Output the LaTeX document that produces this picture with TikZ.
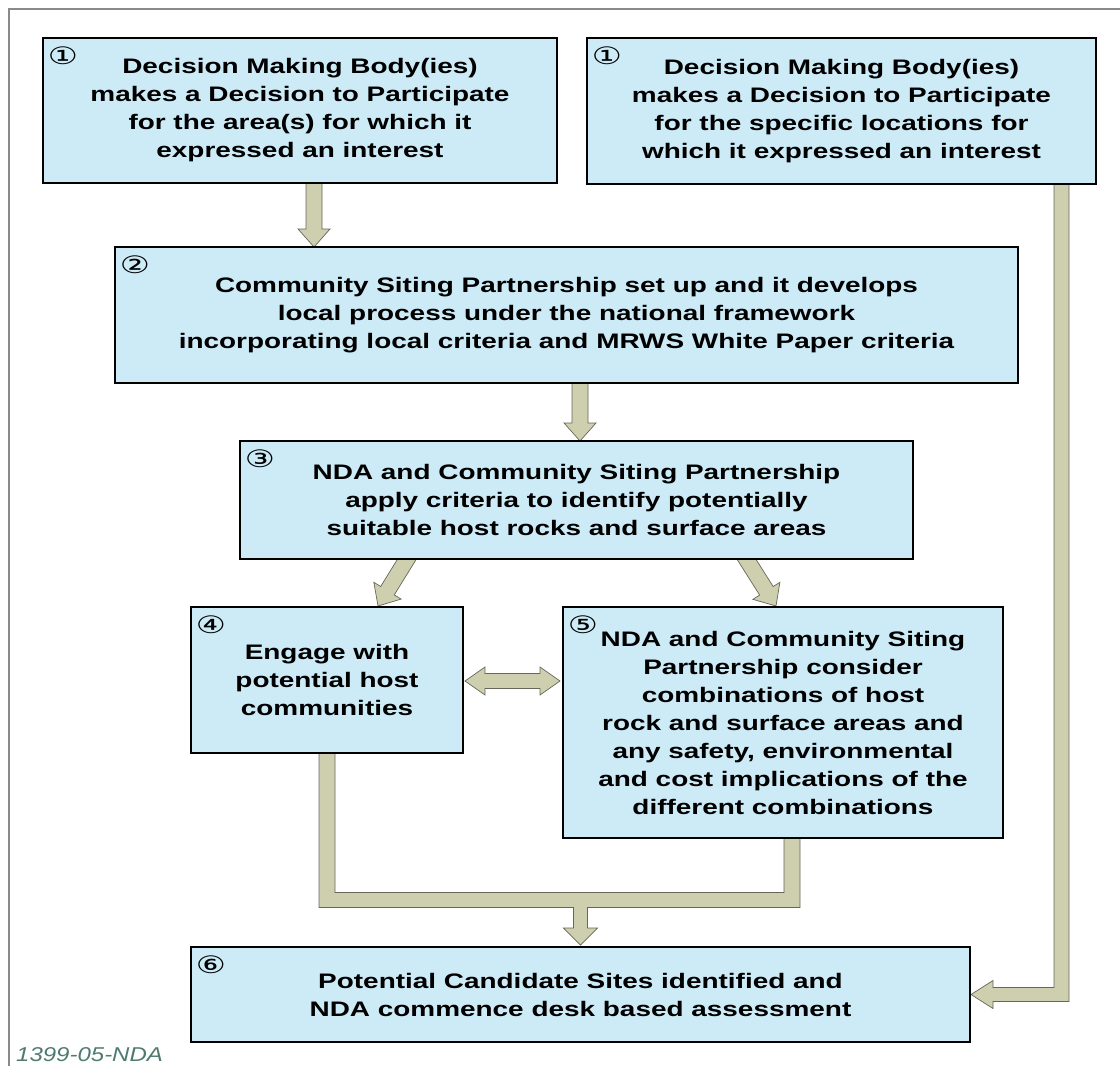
\documentclass[tikz,border=0pt]{standalone}
\usepackage{fontspec}
\setmainfont{Liberation Sans}
\newfontfamily\boxfam[FakeStretch=1.33]{Liberation Sans}
\newfontfamily\numfam[FakeStretch=1.4]{DejaVu Sans}
\newfontfamily\labfam[FakeStretch=1.2]{Liberation Sans}
\usetikzlibrary{calc}
\definecolor{boxfill}{HTML}{CDEBF6}
\definecolor{arrowfill}{HTML}{CDCFAE}
\definecolor{arrowline}{HTML}{66665A}
\definecolor{framecol}{HTML}{8A8A8A}
\definecolor{labelcol}{HTML}{4E7A70}
\pgfdeclarelayer{bg}
\pgfsetlayers{bg,main}
\tikzset{
  box/.style={draw=black, line width=2.8pt, fill=boxfill, inner sep=0pt, outer sep=0pt,
    align=center, font=\boxfam\bfseries\fontsize{21}{28}\selectfont},
  num/.style={font=\numfam\fontsize{24}{24}\selectfont, inner sep=0pt},
  blockarrow/.style={fill=arrowfill, draw=arrowline, line width=0.7pt, line join=miter},
}
% straight block arrow from coordinate #1 to tip at coordinate #2
\newcommand\blockarr[2]{%
  \coordinate (ba-h) at ($(#2)!18pt!(#1)$);
  \draw[blockarrow] ($(#1)!8pt!90:(#2)$) -- ($(ba-h)!8pt!-90:(#1)$) -- ($(ba-h)!16pt!-90:(#1)$)
    -- (#2) -- ($(ba-h)!16pt!90:(#1)$) -- ($(ba-h)!8pt!90:(#1)$) -- ($(#1)!8pt!-90:(#2)$) -- cycle;
}
\begin{document}
\begin{tikzpicture}[x=1pt,y=-1pt]
\useasboundingbox (0,0) rectangle (1120,1066);
\draw[framecol, line width=1.2pt] (9,1066) -- (9,9) -- (1120,9);

% boxes
\node[box, minimum width=514pt, minimum height=145pt] (b1l) at (300,110.5)
  {Decision Making Body(ies)\\makes a Decision to Participate\\for the area(s) for which it\\expressed an interest};
\node[box, minimum width=509pt, minimum height=146pt] (b1r) at (841.5,111)
  {Decision Making Body(ies)\\makes a Decision to Participate\\for the specific locations for\\which it expressed an interest};
\node[box, minimum width=903pt, minimum height=136pt] (b2) at (566.5,315)
  {Community Siting Partnership set up and it develops\\local process under the national framework\\incorporating local criteria and MRWS White Paper criteria};
\node[box, minimum width=673pt, minimum height=118pt] (b3) at (576.5,500)
  {NDA and Community Siting Partnership\\apply criteria to identify potentially\\suitable host rocks and surface areas};
\node[box, minimum width=272pt, minimum height=146pt] (b4) at (327,680)
  {Engage with\\potential host\\communities};
\node[box, minimum width=440pt, minimum height=231pt] (b5) at (783,722.5)
  {NDA and Community Siting\\Partnership consider\\combinations of host\\rock and surface areas and\\any safety, environmental\\and cost implications of the\\different combinations};
\node[box, minimum width=779pt, minimum height=95pt] (b6) at (580.5,994.5)
  {Potential Candidate Sites identified and\\NDA commence desk based assessment};

% step numbers
\node[num] (n1l) at ($(b1l.north west)+(20,18)$) {①};
\node[num] (n1r) at ($(b1r.north west)+(20,18)$) {①};
\node[num] (n2) at ($(b2.north west)+(20,18)$) {②};
\node[num] (n3) at ($(b3.north west)+(20,18)$) {③};
\node[num] (n4) at ($(b4.north west)+(20,18)$) {④};
\node[num] (n5) at ($(b5.north west)+(20,18)$) {⑤};
\node[num] (n6) at ($(b6.north west)+(20,18)$) {⑥};

% connector points
\coordinate (a12s) at ($(b1l.south)+(14,-8)$);
\coordinate (a12t) at (a12s |- b2.north);
\coordinate (a23s) at ($(b2.south)+(13.5,-8)$);
\coordinate (a23t) at (a23s |- b3.north);
\coordinate (a34s) at ($(b3.south)+(-163.3,-10)$);
\coordinate (a34t) at ($(b4.north)+(51,-1)$);
\coordinate (a35s) at ($(b3.south)+(163.5,-10)$);
\coordinate (a35t) at ($(b5.north)+(-7,-1)$);
\coordinate (dl) at ($(b4.east)+(2,1)$);
\coordinate (dr) at ($(b5.west |- dl)+(-3,0)$);
\coordinate (m4) at (b4.south);
\coordinate (m5) at ($(b5.south)+(9,0)$);
\coordinate (bar) at ($(b6.north)+(0,-47)$);
\coordinate (m6) at ($(b6.north)+(0,-2)$);
\coordinate (r1) at ($(b1r.south east)+(-34.5,0)$);
\coordinate (r6) at ($(b6.east)+(1,0)$);

\begin{pgfonlayer}{bg}
\blockarr{a12s}{a12t}
\blockarr{a23s}{a23t}
\blockarr{a34s}{a34t}
\blockarr{a35s}{a35t}
% double arrow between 4 and 5
\draw[blockarrow] (dl) -- ++(20,-14) -- ++(0,6.5) -- ($(dr)+(-20,-7.5)$) -- ++(0,-6.5) -- (dr)
  -- ++(-20,14) -- ++(0,-6.5) -- ($(dl)+(20,7.5)$) -- ++(0,6.5) -- cycle;
% 4 and 5 join and lead to 6
\draw[blockarrow] ($(m4)+(-8,-8)$) -- ($(m4 |- bar)+(-8,7.5)$) -- ($(m6 |- bar)+(-7,7.5)$)
  -- ($(m6)+(-7,-17)$) -- ($(m6)+(-17,-17)$) -- (m6) -- ($(m6)+(17,-17)$) -- ($(m6)+(7,-17)$)
  -- ($(m6 |- bar)+(7,7.5)$) -- ($(m5 |- bar)+(8,7.5)$) -- ($(m5)+(8,-8)$) -- ($(m5)+(-8,-8)$)
  -- ($(m5 |- bar)+(-8,-7.5)$) -- ($(m4 |- bar)+(8,-7.5)$) -- ($(m4)+(8,-8)$) -- cycle;
% right box 1 down to 6
\draw[blockarrow] ($(r1)+(-7.5,-8)$) -- ($(r1 |- r6)+(-7.5,-7)$) -- ($(r6)+(22,-7)$) -- ($(r6)+(22,-14)$)
  -- (r6) -- ($(r6)+(22,14)$) -- ($(r6)+(22,7)$) -- ($(r1 |- r6)+(7.5,7)$) -- ($(r1)+(7.5,-8)$) -- cycle;
\end{pgfonlayer}

\node[font=\labfam\itshape\fontsize{20}{20}\selectfont, text=labelcol, anchor=west, inner sep=0pt] (lbl) at (16,1055) {1399-05-NDA};
\end{tikzpicture}
\end{document}
